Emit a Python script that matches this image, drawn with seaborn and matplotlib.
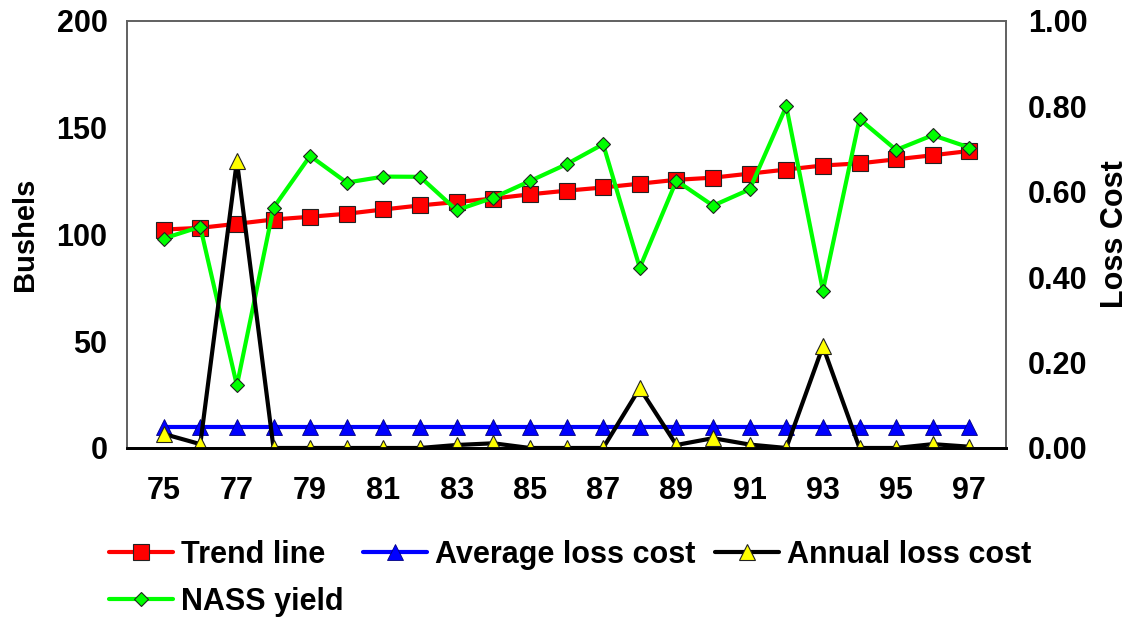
import matplotlib
matplotlib.use("Agg")
import matplotlib.pyplot as plt
import seaborn as sns
import numpy as np
import pandas as pd

# ---- data ----
years = list(range(75, 98))
trend_line = [102.3, 103.1, 105.0, 107.0, 108.3, 109.7, 111.7, 113.6, 115.2, 116.8, 118.8,
              120.5, 122.0, 123.8, 125.6, 126.6, 128.5, 130.4, 132.3, 133.3, 135.2, 137.1, 139.1]
nass_yield = [98.1, 103.6, 29.3, 112.5, 136.8, 124.3, 127.1, 127.0, 111.4, 117.2, 125.0,
              132.9, 142.3, 84.4, 125.2, 113.5, 121.1, 160.0, 73.7, 154.0, 139.6, 146.5, 140.7]
average_loss_cost = [0.048] * 23
annual_loss_cost = [0.033, 0.009, 0.672, 0.0, 0.0, 0.0, 0.0, 0.0, 0.007, 0.011, 0.0,
                    0.0, 0.0, 0.140, 0.007, 0.023, 0.008, 0.0, 0.238, 0.0, 0.0, 0.009, 0.003]
x_ticks = list(range(75, 98, 2))
left_ticks = [0, 50, 100, 150, 200]
right_ticks = [0.0, 0.2, 0.4, 0.6, 0.8, 1.0]

df = pd.DataFrame({"year": years, "trend": trend_line, "nass": nass_yield,
                   "avg": average_loss_cost, "annual": annual_loss_cost})

sns.set_style("white")
plt.rcParams["font.family"] = ["Liberation Sans", "DejaVu Sans"]
plt.rcParams["font.weight"] = "bold"
plt.rcParams["text.color"] = "black"
plt.rcParams["axes.labelcolor"] = "black"
plt.rcParams["xtick.color"] = "black"
plt.rcParams["ytick.color"] = "black"

fig = plt.figure(figsize=(11.31, 6.18), dpi=100)
ax = fig.add_axes([0.1123, 0.2751, 0.7772, 0.691])
ax2 = ax.twinx()

lw = 3.0
sns.lineplot(data=df, x="year", y="trend", ax=ax, color="#ff0000", linewidth=lw,
             marker="s", markersize=12, markeredgecolor="#222222", markeredgewidth=0.8,
             label="Trend line", legend=False)
sns.lineplot(data=df, x="year", y="nass", ax=ax, color="#00ff00", linewidth=lw,
             marker="D", markersize=7.5, markeredgecolor="#222222", markeredgewidth=0.8,
             label="NASS yield", legend=False)
sns.lineplot(data=df, x="year", y="avg", ax=ax2, color="#0000ff", linewidth=lw,
             marker="^", markersize=11, markeredgecolor="#000080", markeredgewidth=0.6,
             label="Average loss cost", legend=False)
sns.lineplot(data=df, x="year", y="annual", ax=ax2, color="#000000", linewidth=lw,
             marker="^", markersize=11, markerfacecolor="#ffff00", markeredgecolor="#222222",
             markeredgewidth=0.8, label="Annual loss cost", legend=False)

ax.set_xlim(74, 98)
ax.set_ylim(0, 200)
ax2.set_ylim(0, 1.0)
ax.set_xticks(x_ticks)
ax.set_xticklabels([str(t) for t in x_ticks])
ax.set_yticks(left_ticks)
ax.set_yticklabels([str(t) for t in left_ticks])
ax2.set_yticks(right_ticks)
ax2.set_yticklabels([f"{t:.2f}" for t in right_ticks])

fs = 22
ax.tick_params(axis="x", length=0, pad=20, labelsize=fs, labelcolor="black")
ax.tick_params(axis="y", length=0, pad=14, labelsize=fs, labelcolor="black")
ax2.tick_params(axis="y", length=0, pad=16, labelsize=fs, labelcolor="black")
for lab in ax.get_xticklabels() + ax.get_yticklabels() + ax2.get_yticklabels():
    lab.set_fontweight("bold")

ax.set_xlabel("")
ax.set_ylabel("Bushels", fontsize=fs - 1, fontweight="bold", labelpad=13, color="black")
ax2.set_ylabel("Loss Cost", fontsize=fs, fontweight="bold", labelpad=9, color="black")

for a in (ax, ax2):
    for side in ("top", "left", "right"):
        a.spines[side].set_color("#606060")
        a.spines[side].set_linewidth(1.2)
        a.spines[side].set_visible(True)
    a.spines["bottom"].set_color("black")
    a.spines["bottom"].set_linewidth(2.0)
    a.grid(False)

h1, l1 = ax.get_legend_handles_labels()
h2, l2 = ax2.get_legend_handles_labels()
hd = dict(zip(l1 + l2, h1 + h2))
order = ["Trend line", "NASS yield", "Average loss cost", "Annual loss cost"]
leg = fig.legend([hd[k] for k in order], order, loc="upper left", bbox_to_anchor=(0.096, 0.126),
                 ncol=3, frameon=False, prop={"weight": "bold", "size": fs},
                 handlelength=2.1, handletextpad=0.27, columnspacing=0.63, borderpad=0,
                 borderaxespad=0, labelspacing=0.55)
for t in leg.get_texts():
    t.set_color("black")

fig.savefig("out.png", dpi=100)
